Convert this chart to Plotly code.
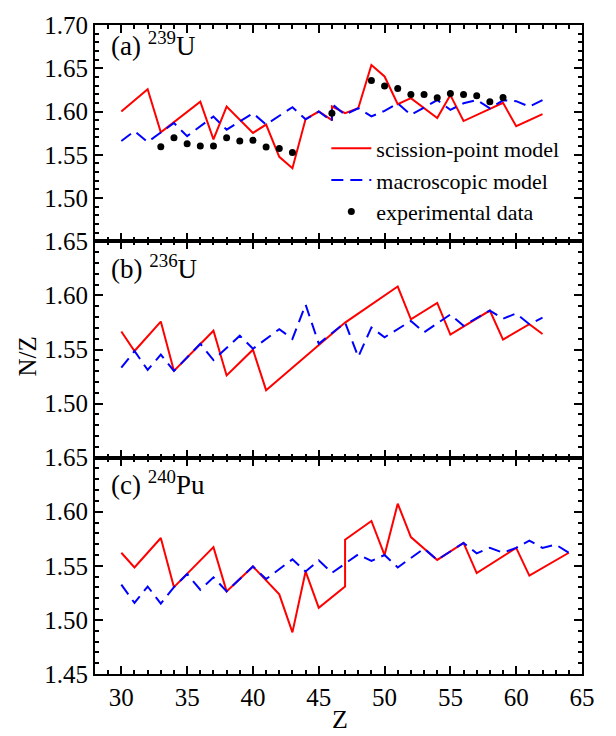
import plotly.graph_objects as go

# ---------------- data ----------------
# (a) 239U
a_sp_z = [30, 32, 33, 36, 37, 38, 40, 41, 42, 43, 44, 45, 46, 46, 47, 48, 49, 50, 51, 52, 54, 55, 56, 59, 60, 62]
a_sp_v = [1.600, 1.6258, 1.5761, 1.6114, 1.5678, 1.6057, 1.5753, 1.5849, 1.5477, 1.5345, 1.5913, 1.600,
          1.590, 1.606, 1.598, 1.6038, 1.6538, 1.6405, 1.6085, 1.6155, 1.5924, 1.619, 1.589, 1.610, 1.583, 1.597]
a_mac_z = [30, 31, 32, 34, 35, 37, 38, 40, 41, 43, 44, 45, 46, 46, 47, 48, 49, 50, 51, 52, 53, 54, 55, 56,
           57, 58, 59, 60, 61, 62]
a_mac_v = [1.566, 1.5773, 1.5648, 1.5867, 1.5716, 1.5943, 1.579, 1.598, 1.585, 1.605, 1.591, 1.600,
           1.5886, 1.6087, 1.5962, 1.6038, 1.5943, 1.6008, 1.6095, 1.5962, 1.6045, 1.6133, 1.602, 1.6095,
           1.6133, 1.6038, 1.613, 1.612, 1.6057, 1.6133]
a_exp_z = [33, 34, 35, 36, 37, 38, 39, 40, 41, 42, 43, 46, 49, 50, 51, 52, 53, 54, 55, 56, 57, 58, 59]
a_exp_v = [1.5594, 1.5697, 1.5629, 1.5602, 1.5602, 1.5697, 1.5659, 1.5667, 1.5591, 1.5572, 1.5527, 1.598,
           1.636, 1.6295, 1.6265, 1.6197, 1.6197, 1.6159, 1.6208, 1.6197, 1.6182, 1.6114, 1.6163]

# (b) 236U
b_sp_z = [30, 31, 33, 34, 37, 38, 40, 41, 47, 51, 52, 54, 55, 58, 59, 61, 62]
b_sp_v = [1.5667, 1.5486, 1.5758, 1.5302, 1.5674, 1.526, 1.5498, 1.5124, 1.5749, 1.6082, 1.5779, 1.593,
          1.5638, 1.586, 1.5592, 1.5734, 1.5643]
b_mac_z = [30, 31, 32, 33, 34, 36, 37, 39, 40, 42, 43, 44, 45, 47, 48, 49, 50, 52, 53, 55, 56, 58, 59, 60, 61, 62]
b_mac_v = [1.5332, 1.5486, 1.5311, 1.5453, 1.5302, 1.5553, 1.5402, 1.5628, 1.5507, 1.5688, 1.5598, 1.5915,
           1.5553, 1.5749, 1.5432, 1.5704, 1.5613, 1.5764, 1.5658, 1.5824, 1.5719, 1.586, 1.5785, 1.5833,
           1.5734, 1.5794]

# (c) 240Pu
c_sp_z = [30, 31, 33, 34, 37, 38, 40, 42, 43, 44, 45, 47, 47, 49, 50, 51, 52, 54, 56, 57, 60, 61, 64]
c_sp_v = [1.5621, 1.5485, 1.5757, 1.5303, 1.5673, 1.5264, 1.5494, 1.5236, 1.4885, 1.5448, 1.5112, 1.5309,
          1.5742, 1.5915, 1.5600, 1.6075, 1.5766, 1.5555, 1.5712, 1.5433, 1.5666, 1.5409, 1.5621]
c_mac_z = [30, 31, 32, 33, 34, 35, 36, 37, 38, 40, 41, 43, 44, 45, 46, 48, 49, 50, 51, 53, 54, 56, 57, 58,
           59, 60, 61, 62, 63, 64]
c_mac_v = [1.5327, 1.5157, 1.5309, 1.5151, 1.5303, 1.5424, 1.5279, 1.5394, 1.5264, 1.5494, 1.5378, 1.556,
           1.5448, 1.5551, 1.5435, 1.5606, 1.5545, 1.5600, 1.5485, 1.566, 1.5555, 1.5712, 1.5615, 1.5667,
           1.5621, 1.5666, 1.5733, 1.5666, 1.5697, 1.5621]

names = ["scission-point model", "macroscopic model", "experimental data"]
panel_labels = ["(a) <sup>239</sup>U", "(b) <sup>236</sup>U", "(c) <sup>240</sup>Pu"]
y_ticks_a = [1.50, 1.55, 1.60, 1.65, 1.70]
y_ticks_b = [1.50, 1.55, 1.60, 1.65]
y_ticks_c = [1.45, 1.50, 1.55, 1.60, 1.65]

# ---------------- figure ----------------
FONT = "Liberation Serif"
RED = "#ff0000"
BLUE = "#0000ff"
DASH = "12px,7px"

fig = go.Figure()

def add_panel(sp_z, sp_v, mac_z, mac_v, xa, ya, legend):
    fig.add_trace(go.Scatter(x=sp_z, y=sp_v, mode="lines", name=names[0], xaxis=xa, yaxis=ya,
                             line=dict(color=RED, width=2), showlegend=legend))
    fig.add_trace(go.Scatter(x=mac_z, y=mac_v, mode="lines", name=names[1], xaxis=xa, yaxis=ya,
                             line=dict(color=BLUE, width=2, dash=DASH), showlegend=legend))

add_panel(a_sp_z, a_sp_v, a_mac_z, a_mac_v, "x3", "y3", True)
fig.add_trace(go.Scatter(x=a_exp_z, y=a_exp_v, mode="markers", name=names[2], xaxis="x3", yaxis="y3",
                         marker=dict(color="black", size=7)))
add_panel(b_sp_z, b_sp_v, b_mac_z, b_mac_v, "x2", "y2", False)
add_panel(c_sp_z, c_sp_v, c_mac_z, c_mac_v, "x", "y", False)

common = dict(showline=True, linewidth=2, linecolor="black", mirror="ticks", ticks="inside",
              ticklen=8, tickwidth=2, tickcolor="black", showgrid=False, zeroline=False,
              tickfont=dict(family=FONT, size=25, color="black"))
xcommon = dict(common, range=[28, 65], tick0=30, dtick=5,
               minor=dict(ticks="inside", ticklen=4, tickwidth=1.5, tickcolor="black", dtick=1, tick0=28))

def ycfg(dom, rng, ticks):
    txt = [f"{t:.2f}" for t in ticks]
    return dict(common, domain=dom, range=rng, tickmode="array", tickvals=ticks, ticktext=txt,
                minor=dict(ticks="inside", ticklen=4, tickwidth=1.5, tickcolor="black", dtick=0.01, tick0=1.45))

fig.update_layout(
    width=616, height=736,
    margin=dict(l=95, r=34, t=12, b=62),
    paper_bgcolor="white", plot_bgcolor="white",
    font=dict(family=FONT, size=25, color="black"),
    xaxis=dict(xcommon, anchor="y", showticklabels=True),
    xaxis2=dict(xcommon, anchor="y2", matches="x", showticklabels=False),
    xaxis3=dict(xcommon, anchor="y3", matches="x", showticklabels=False),
    yaxis=ycfg([0, 1/3], [1.45, 1.65], y_ticks_c),
    yaxis2=ycfg([1/3, 2/3], [1.45, 1.65], y_ticks_b),
    yaxis3=ycfg([2/3, 1], [1.45, 1.70], y_ticks_a),
    legend=dict(x=0.475, y=0.842, xanchor="left", yanchor="top", bgcolor="rgba(0,0,0,0)",
                font=dict(family=FONT, size=22, color="black"), tracegroupgap=0, itemwidth=40),
    showlegend=True,
)

label_y = [0.97, 0.627, 0.295]
for txt, yy in zip(panel_labels, label_y):
    fig.add_annotation(text=txt, xref="paper", yref="paper", x=0.028, y=yy, xanchor="left",
                       yanchor="middle", showarrow=False, font=dict(family=FONT, size=27, color="black"))

fig.add_annotation(text="N/Z", xref="paper", yref="paper", x=-0.138, y=0.489, textangle=-90,
                   xanchor="center", yanchor="middle",
                   showarrow=False, font=dict(family=FONT, size=25, color="black"))
fig.add_annotation(text="Z", xref="paper", yref="paper", x=0.503, y=-0.07, xanchor="center",
                   yanchor="middle", showarrow=False, font=dict(family=FONT, size=26, color="black"))

fig.write_html("out.html")
